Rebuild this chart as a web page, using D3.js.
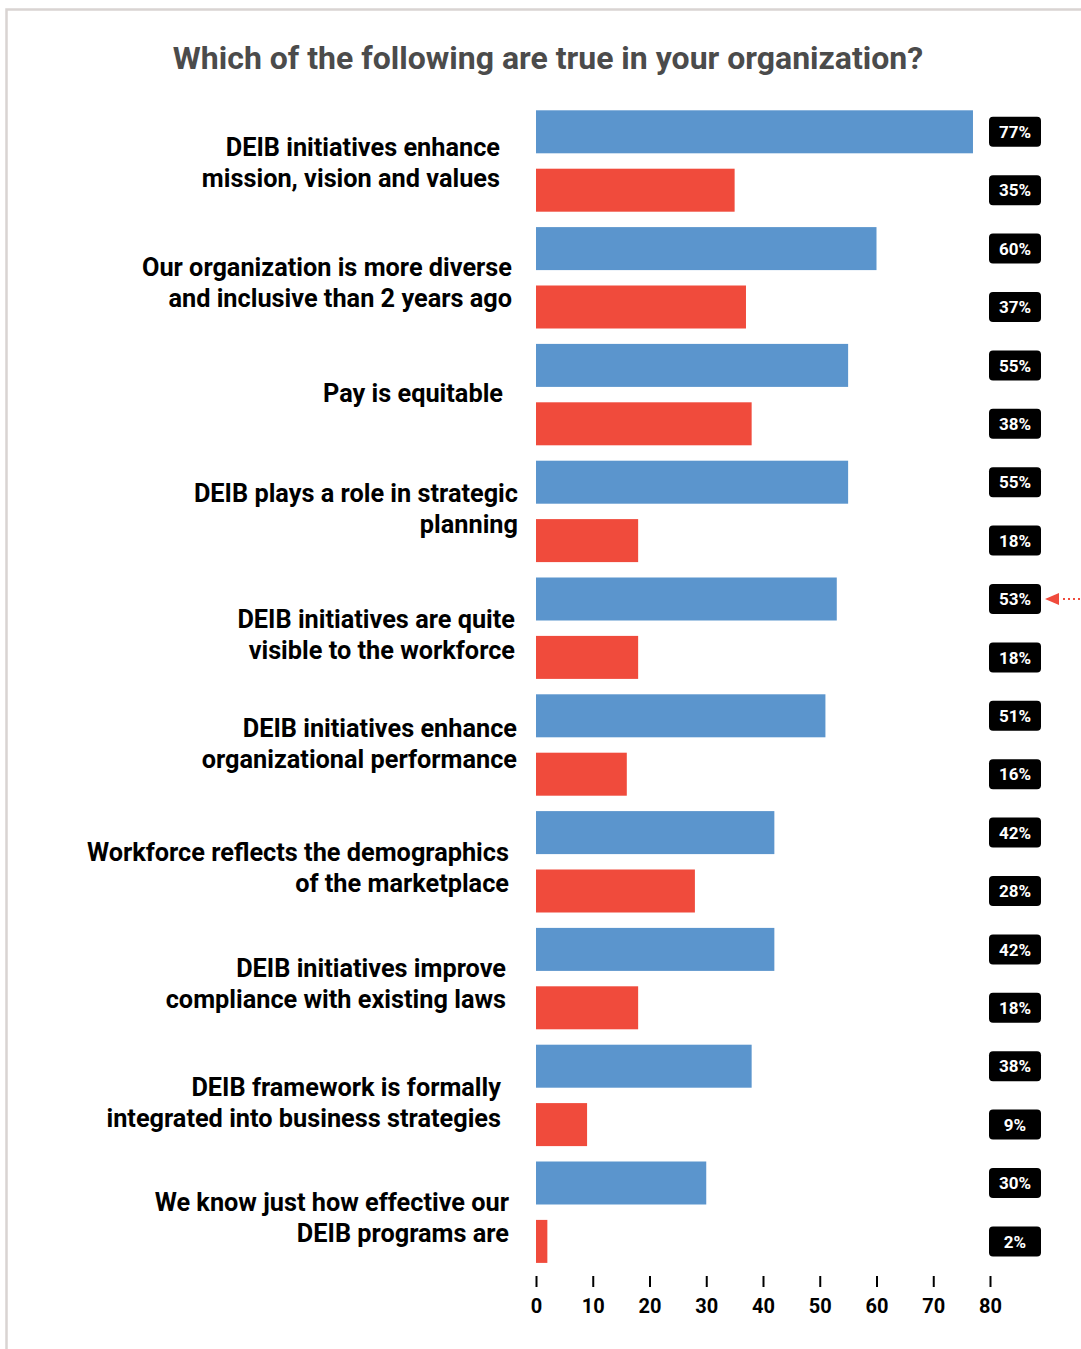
<!DOCTYPE html>
<html>
<head>
<meta charset="utf-8">
<script src="https://cdn.jsdelivr.net/npm/d3@7"></script>
<style>
  html, body { margin: 0; padding: 0; background: #fff; }
  svg { display: block; font-family: Roboto, "Noto Sans", sans-serif; }
</style>
</head>
<body>
<svg id="chart" width="1081" height="1349"></svg>
<script>
// Survey statements, one per group, top to bottom
const categories = [
  ["DEIB initiatives enhance", "mission, vision and values"],
  ["Our organization is more diverse", "and inclusive than 2 years ago"],
  ["Pay is equitable"],
  ["DEIB plays a role in strategic", "planning"],
  ["DEIB initiatives are quite", "visible to the workforce"],
  ["DEIB initiatives enhance", "organizational performance"],
  ["Workforce reflects the demographics", "of the marketplace"],
  ["DEIB initiatives improve", "compliance with existing laws"],
  ["DEIB framework is formally", "integrated into business strategies"],
  ["We know just how effective our", "DEIB programs are"]
];
// First (blue) and second (red) series, percent
const blueValues = [77, 60, 55, 55, 53, 51, 42, 42, 38, 30];
const redValues  = [35, 37, 38, 18, 18, 16, 28, 18, 9, 2];
const tickValues = [0, 10, 20, 30, 40, 50, 60, 70, 80];
const highlighted = 4; // group whose blue badge gets the pointer

const title = "Which of the following are true in your organization?";
const blue = "#5b95cd", red = "#f04b3c";

// label placement tweaks (right edge and vertical nudge per group)
const labelRight = [500, 512, 503, 518, 515, 517, 509, 506, 501, 509];
const labelNudge = [2, 5, -1, -3, 6, -1, 6, 5, 7, 5];

const svg = d3.select("#chart");

// frame
svg.append("path")
  .attr("d", "M6.5,1349 L6.5,9.5 L1081,9.5")
  .attr("fill", "none").attr("stroke", "#d9d4d2").attr("stroke-width", 2.5);

svg.append("text")
  .attr("x", 548).attr("y", 69)
  .attr("text-anchor", "middle")
  .attr("font-size", 32).attr("font-weight", 700)
  .attr("fill", "#4b4b4b")
  .text(title);

const x = d3.scaleLinear().domain([0, 80]).range([536, 990]);

// one band per bar: blue then red for each group
const rows = [];
categories.forEach((c, i) => {
  rows.push({ key: i + "b", group: i, value: blueValues[i], color: blue });
  rows.push({ key: i + "r", group: i, value: redValues[i], color: red });
});
const step = 58.4, barH = 43;
const y = d3.scaleBand()
  .domain(rows.map(d => d.key))
  .range([110.3, 110.3 + (rows.length - 1) * step + barH])
  .paddingInner(1 - barH / step).paddingOuter(0).align(0);

svg.append("g").selectAll("rect")
  .data(rows).join("rect")
  .attr("x", x(0))
  .attr("y", d => y(d.key))
  .attr("width", d => x(d.value) - x(0))
  .attr("height", y.bandwidth())
  .attr("fill", d => d.color);

// value badges
const badge = svg.append("g").selectAll("g")
  .data(rows).join("g")
  .attr("transform", d => `translate(1015,${y(d.key) + y.bandwidth() / 2})`);
badge.append("rect")
  .attr("x", -26).attr("y", -15).attr("width", 52).attr("height", 30)
  .attr("rx", 4).attr("fill", "#000");
badge.append("text")
  .attr("text-anchor", "middle").attr("dy", "0.36em")
  .attr("font-size", 17).attr("font-weight", 700).attr("fill", "#fff")
  .text(d => d.value + "%");

// pointer next to the highlighted badge
const py = y(highlighted + "b") + y.bandwidth() / 2;
svg.append("path")
  .attr("d", `M1045,${py} L1059,${py - 6} L1059,${py + 6} Z`)
  .attr("fill", red);
svg.append("line")
  .attr("x1", 1063).attr("x2", 1081).attr("y1", py).attr("y2", py)
  .attr("stroke", red).attr("stroke-width", 2).attr("stroke-dasharray", "2,3");

// category labels
const labels = svg.append("g").selectAll("text")
  .data(categories).join("text")
  .attr("text-anchor", "end")
  .attr("font-size", 25.3).attr("font-weight", 700).attr("fill", "#000")
  .attr("transform", (d, i) => {
    const top = y(i + "b"), bottom = y(i + "r") + y.bandwidth();
    return `translate(${labelRight[i]},${(top + bottom) / 2 + labelNudge[i]})`;
  });
labels.selectAll("tspan")
  .data(d => d.map((t, j) => ({ t, j, n: d.length })))
  .join("tspan")
  .attr("x", 0)
  .attr("y", d => (d.j - (d.n - 1) / 2) * 31)
  .attr("dy", "0.35em")
  .text(d => d.t);

// bottom axis: tick marks and labels, no domain line
const axis = svg.append("g")
  .attr("transform", "translate(0,1276)")
  .call(d3.axisBottom(x).tickValues(tickValues).tickSize(11).tickPadding(12).tickFormat(d3.format("d")));
axis.select(".domain").remove();
axis.selectAll(".tick line").attr("stroke", "#000").attr("stroke-width", 2);
axis.selectAll(".tick text")
  .attr("font-size", 20).attr("font-weight", 700).attr("fill", "#000")
  .attr("font-family", "Roboto, sans-serif");
</script>
</body>
</html>
